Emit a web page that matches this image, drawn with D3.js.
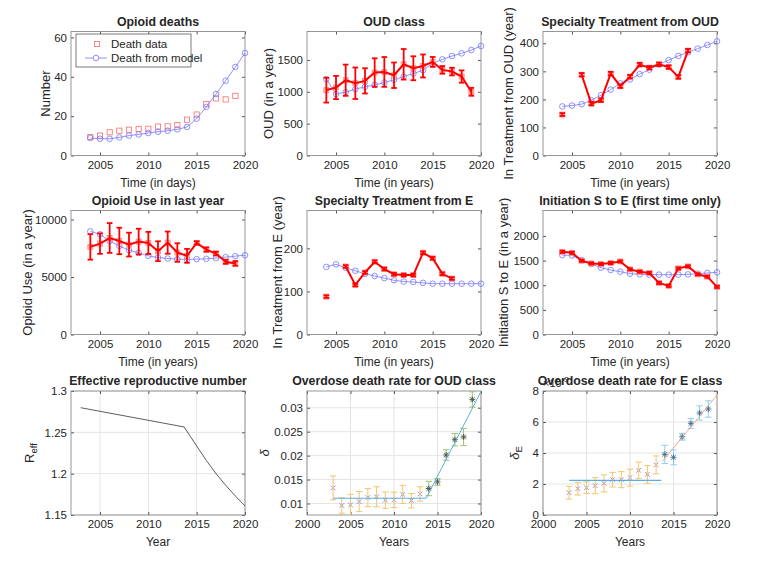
<!DOCTYPE html>
<html lang="en">
<head>
<meta charset="UTF-8">
<title>Opioid model fit</title>
<script src="https://d3js.org/d3.v7.min.js"></script>
<style>
  body { margin: 0; background: #fff; }
  svg text { font-family: "Liberation Sans", Arial, sans-serif; fill: #262626; }
</style>
</head>
<body>
<svg id="chart" width="761" height="562"></svg>
<script>
// ---- data ----
const deathYears = [2004, 2005, 2006, 2007, 2008, 2009, 2010, 2011, 2012, 2013, 2014, 2015, 2016, 2017, 2018, 2019];
const modelYears = [2004, 2005, 2006, 2007, 2008, 2009, 2010, 2011, 2012, 2013, 2014, 2015, 2016, 2017, 2018, 2019, 2020];
const treatYears = [2004, 2005, 2006, 2007, 2008, 2009, 2010, 2011, 2012, 2013, 2014, 2015, 2016, 2017];

const deathData  = [9.4, 10.1, 11.8, 12.6, 13.1, 13.5, 13.6, 14.7, 14.8, 15.5, 18.2, 20.8, 26.1, 29.0, 28.5, 30.3];
const deathModel = [8.9, 8.5, 8.5, 9.2, 10.1, 10.7, 11.4, 12.1, 12.6, 13.3, 14.5, 18.7, 24.7, 31.2, 38.0, 45.0, 52.1];

const oudData  = [1026, 1068, 1182, 1135, 1172, 1302, 1312, 1260, 1432, 1370, 1406, 1469, 1344, 1318, 1240, 1000];
const oudErr   = [195, 182, 245, 247, 198, 224, 234, 200, 240, 188, 180, 78, 60, 60, 96, 62];
const oudModel = [1198, 964, 995, 1042, 1078, 1109, 1146, 1188, 1240, 1286, 1339, 1445, 1510, 1562, 1604, 1656, 1719];

const treatOudData  = [146, null, 288, 185, 197, 292, 247, 281, 324, 313, 325, 315, 280, 374];
const treatOudErr   = [5, null, 6, 6, 6, 6, 6, 6, 6, 6, 6, 6, 6, 6];
const treatOudModel = [175, 178, 183, 197, 215, 235, 257, 271, 290, 306, 324, 340, 355, 368, 381, 394, 407];

const useData  = [7615, 7902, 8391, 8132, 7816, 8075, 7960, 7241, 7989, 7126, 6839, 7960, 7385, 7040, 6322, 6178];
const useErr   = [1106, 890, 1293, 1150, 1034, 1120, 963, 862, 963, 805, 603, 144, 187, 158, 172, 200];
const useModel = [8966, 8707, 8132, 7701, 7328, 7098, 6839, 6695, 6609, 6552, 6523, 6552, 6580, 6638, 6724, 6810, 6897];

const treatEData  = [88, null, 158, 115, 144, 169, 152, 140, 138, 138, 190, 177, 141, 130];
const treatEErr   = [3, null, 3, 3, 3, 3, 3, 3, 3, 3, 3, 3, 3, 3];
const treatEModel = [157, 163, 155, 148, 141, 136, 131, 126, 123, 122, 120, 118, 118, 118, 118, 118, 118];

const initData  = [1678, 1658, 1497, 1443, 1430, 1450, 1483, 1322, 1275, 1248, 1047, 987, 1342, 1383, 1221, 1174, 966];
const initErr   = [22, 22, 22, 22, 22, 22, 22, 22, 22, 22, 22, 22, 22, 22, 22, 22, 22];
const initModel = [1611, 1604, 1510, 1430, 1356, 1309, 1275, 1235, 1221, 1215, 1215, 1215, 1215, 1221, 1235, 1248, 1262];

const reffYears  = [2003, 2013.7, 2015, 2016, 2017, 2018, 2019, 2020];
const reffValues = [1.2798, 1.2565, 1.2335, 1.216, 1.2, 1.186, 1.173, 1.161];

const rateYears = [2003, 2004, 2005, 2006, 2007, 2008, 2009, 2010, 2011, 2012, 2013, 2014, 2015, 2016, 2017, 2018, 2019];
const rateBreak = 2014; // later years drawn in the second colour
const odOud    = [0.01326, 0.00958, 0.00972, 0.0104, 0.01125, 0.0114, 0.0107, 0.01076, 0.0119, 0.0106, 0.0120, 0.01313, 0.01451, 0.02014, 0.02333, 0.02389, 0.03174];
const odOudErr = [0.0025, 0.0016, 0.0022, 0.0021, 0.0019, 0.0021, 0.0017, 0.0016, 0.0019, 0.0015, 0.0015, 0.0015, 0.0007, 0.0011, 0.0013, 0.0018, 0.0016];
const odOudFitYears = [2003, 2013.7, 2020];
const odOudFit      = [0.0111, 0.0111, 0.0334];

const odE    = [1.44, 1.70, 1.76, 1.89, 2.04, 2.28, 2.28, 2.41, 2.88, 2.62, 3.23, 3.91, 3.72, 5.05, 5.91, 6.58, 6.84];
const odEErr = [0.41, 0.41, 0.38, 0.52, 0.55, 0.47, 0.52, 0.55, 0.53, 0.57, 0.58, 0.59, 0.48, 0.22, 0.32, 0.46, 0.53];
const odEFlatYears = [2003, 2013.6];
const odEFlat      = [2.24, 2.24];
const odERiseYears = [2013.7, 2020];
const odERise      = [3.44, 7.74];

const yearTicks = [2005, 2010, 2015, 2020];
const yearTicksWide = [2000, 2005, 2010, 2015, 2020];

// ---- layout ----
const svg = d3.select("#chart");
const colX = [71, 307, 543], rowY = [31.5, 210.5, 391];
const W = 174, H = 124;
const RED = "#ff0000", BLUE = "#7575ff";

function panel(i, o) {
  const x0 = colX[i % 3], y0 = rowY[Math.floor(i / 3)];
  const g = svg.append("g").attr("transform", `translate(${x0},${y0})`);
  const x = d3.scaleLinear().domain(o.xDomain).range([0, W]);
  const y = d3.scaleLinear().domain(o.yDomain).range([H, 0]);

  if (o.grid) {
    g.append("g").selectAll("line").data(o.xTicks).join("line")
      .attr("x1", d => x(d)).attr("x2", d => x(d)).attr("y1", 0).attr("y2", H)
      .attr("stroke", "#e4e4e4");
    g.append("g").selectAll("line").data(o.yTicks).join("line")
      .attr("y1", d => y(d)).attr("y2", d => y(d)).attr("x1", 0).attr("x2", W)
      .attr("stroke", "#e4e4e4");
  }

  const xa = g.append("g").attr("transform", `translate(0,${H})`)
    .call(d3.axisBottom(x).tickValues(o.xTicks).tickSizeInner(-3).tickSizeOuter(0).tickPadding(5).tickFormat(d => d));
  const ya = g.append("g")
    .call(d3.axisLeft(y).tickValues(o.yTicks).tickSizeInner(-3).tickSizeOuter(0).tickPadding(4).tickFormat(o.yFormat || (d => d)));
  g.append("g").call(d3.axisTop(x).tickValues(o.xTicks).tickSizeInner(-3).tickSizeOuter(0).tickFormat(""));
  g.append("g").attr("transform", `translate(${W},0)`)
    .call(d3.axisRight(y).tickValues(o.yTicks).tickSizeInner(-3).tickSizeOuter(0).tickFormat(""));
  g.selectAll(".domain").remove();
  g.selectAll(".tick line").attr("stroke", "#555");
  [xa, ya].forEach(a => a.selectAll("text").attr("font-size", "11.5px").attr("fill", "#262626"));

  g.append("rect").attr("width", W).attr("height", H)
    .attr("fill", "none").attr("stroke", "#8c8c8c").attr("stroke-width", 0.9);

  g.append("text").attr("x", W / 2).attr("y", -6).attr("text-anchor", "middle")
    .attr("font-size", "12.3px").attr("font-weight", "bold").text(o.title);
  g.append("text").attr("x", W / 2).attr("y", H + 31).attr("text-anchor", "middle")
    .attr("font-size", "12px").text(o.xLabel);
  const yl = g.append("text").attr("transform", `translate(${o.yLabelX},${H / 2}) rotate(-90)`)
    .attr("text-anchor", "middle").attr("font-size", "13px");
  if (o.yLabelSub) {
    yl.append("tspan").attr("font-style", o.italic ? "italic" : null).text(o.yLabel);
    yl.append("tspan").attr("font-size", "9.5px").attr("dy", 3).text(o.yLabelSub);
  } else {
    yl.attr("font-style", o.italic ? "italic" : null).text(o.yLabel);
  }

  let plot = g.append("g");
  if (o.clip) {
    const id = "clip" + i;
    g.append("clipPath").attr("id", id).append("rect").attr("width", W).attr("height", H);
    plot.attr("clip-path", `url(#${id})`);
  }
  return { g, plot, x, y };
}

function drawModel(p, years, vals) {
  const pts = years.map((t, k) => [t, vals[k]]);
  p.plot.append("path").datum(pts)
    .attr("d", d3.line().x(d => p.x(d[0])).y(d => p.y(d[1])))
    .attr("fill", "none").attr("stroke", BLUE).attr("stroke-width", 0.8);
  p.plot.append("g").selectAll("circle").data(pts).join("circle")
    .attr("cx", d => p.x(d[0])).attr("cy", d => p.y(d[1])).attr("r", 2.8)
    .attr("fill", "none").attr("stroke", BLUE).attr("stroke-width", 0.8);
}

function drawData(p, years, vals, errs) {
  const pts = years.map((t, k) => [t, vals[k], errs[k]]);
  const ok = pts.filter(d => d[1] != null);
  p.plot.append("g").selectAll("rect").data(ok).join("rect")
    .attr("x", d => p.x(d[0]) - 2.5).attr("y", d => p.y(d[1]) - 2.5)
    .attr("width", 5).attr("height", 5)
    .attr("fill", "#ffb3b3").attr("stroke", "#ff8a8a").attr("stroke-width", 0.8);
  p.plot.append("path").datum(pts)
    .attr("d", d3.line().defined(d => d[1] != null).x(d => p.x(d[0])).y(d => p.y(d[1])))
    .attr("fill", "none").attr("stroke", RED).attr("stroke-width", 2);
  const eb = p.plot.append("g").attr("stroke", RED).attr("stroke-width", 1.8);
  ok.forEach(d => {
    const cx = p.x(d[0]), t = p.y(d[1] + d[2]), b = p.y(d[1] - d[2]);
    eb.append("line").attr("x1", cx).attr("x2", cx).attr("y1", t).attr("y2", b);
    eb.append("line").attr("x1", cx - 2.8).attr("x2", cx + 2.8).attr("y1", t).attr("y2", t);
    eb.append("line").attr("x1", cx - 2.8).attr("x2", cx + 2.8).attr("y1", b).attr("y2", b);
  });
}

function drawRates(p, years, vals, errs, colA, colB, mkA, mkB) {
  years.forEach((t, k) => {
    const late = t >= rateBreak;
    const c = late ? colB : colA;
    const cx = p.x(t), cy = p.y(vals[k]);
    const top = p.y(vals[k] + errs[k]), bot = p.y(vals[k] - errs[k]);
    const e = p.plot.append("g").attr("stroke", c).attr("stroke-width", 1);
    e.append("line").attr("x1", cx).attr("x2", cx).attr("y1", top).attr("y2", bot);
    e.append("line").attr("x1", cx - 3.2).attr("x2", cx + 3.2).attr("y1", top).attr("y2", top);
    e.append("line").attr("x1", cx - 3.2).attr("x2", cx + 3.2).attr("y1", bot).attr("y2", bot);
    const m = p.plot.append("g").attr("stroke", late ? mkB : mkA).attr("stroke-width", 0.9);
    m.append("line").attr("x1", cx - 2.3).attr("x2", cx + 2.3).attr("y1", cy - 2.3).attr("y2", cy + 2.3);
    m.append("line").attr("x1", cx - 2.3).attr("x2", cx + 2.3).attr("y1", cy + 2.3).attr("y2", cy - 2.3);
    if (late) {
      m.append("line").attr("x1", cx - 3).attr("x2", cx + 3).attr("y1", cy).attr("y2", cy);
      m.append("line").attr("x1", cx).attr("x2", cx).attr("y1", cy - 3).attr("y2", cy + 3);
    } else {
      p.plot.append("circle").attr("cx", cx).attr("cy", cy).attr("r", 1.1).attr("fill", colA);
    }
  });
}

function drawFit(p, years, vals, color, w) {
  p.plot.append("path").datum(years.map((t, k) => [t, vals[k]]))
    .attr("d", d3.line().x(d => p.x(d[0])).y(d => p.y(d[1])))
    .attr("fill", "none").attr("stroke", color).attr("stroke-width", w);
}

// 1. Opioid deaths
const p1 = panel(0, { title: "Opioid deaths", xLabel: "Time (in days)", yLabel: "Number", yLabelX: -21.5,
  xDomain: [2002, 2020], yDomain: [0, 63], xTicks: yearTicks, yTicks: [0, 20, 40, 60] });
p1.plot.append("g").selectAll("rect").data(deathYears).join("rect")
  .attr("x", (d, k) => p1.x(d) - 2.6).attr("y", (d, k) => p1.y(deathData[k]) - 2.6)
  .attr("width", 5.2).attr("height", 5.2).attr("fill", "none").attr("stroke", "#ff6a6a").attr("stroke-width", 0.8);
drawModel(p1, modelYears, deathModel);
const lg = p1.g.append("g").attr("transform", "translate(5,2.5)");
lg.append("rect").attr("width", 115).attr("height", 33).attr("fill", "#fff").attr("stroke", "#444").attr("stroke-width", 0.7);
lg.append("rect").attr("x", 18.4).attr("y", 7.4).attr("width", 5.2).attr("height", 5.2)
  .attr("fill", "none").attr("stroke", "#ff6a6a").attr("stroke-width", 0.8);
lg.append("line").attr("x1", 9).attr("x2", 31).attr("y1", 24).attr("y2", 24).attr("stroke", BLUE).attr("stroke-width", 0.8);
lg.append("circle").attr("cx", 20).attr("cy", 24).attr("r", 2.8).attr("fill", "#fff").attr("stroke", BLUE).attr("stroke-width", 0.8);
lg.append("text").attr("x", 35).attr("y", 14).attr("font-size", "11.5px").text("Death data");
lg.append("text").attr("x", 35).attr("y", 28).attr("font-size", "11.5px").text("Death from model");

// 2. OUD class
const p2 = panel(1, { title: "OUD class", xLabel: "Time (in years)", yLabel: "OUD (in a year)", yLabelX: -34.5,
  xDomain: [2002, 2020], yDomain: [0, 1947], xTicks: yearTicks, yTicks: [0, 500, 1000, 1500] });
drawModel(p2, modelYears, oudModel);
drawData(p2, deathYears, oudData, oudErr);

// 3. Specialty treatment from OUD
const p3 = panel(2, { title: "Specialty Treatment from OUD", xLabel: "Time (in years)", yLabel: "In Treatment from OUD (year)", yLabelX: -30.5,
  xDomain: [2002, 2020], yDomain: [0, 442], xTicks: yearTicks, yTicks: [0, 100, 200, 300, 400] });
drawModel(p3, modelYears, treatOudModel);
drawData(p3, treatYears, treatOudData, treatOudErr);

// 4. Opioid use in last year
const p4 = panel(3, { title: "Opioid Use in last year", xLabel: "Time (in years)", yLabel: "Opioid Use (in a year)", yLabelX: -39.5,
  xDomain: [2002, 2020], yDomain: [0, 10780], xTicks: yearTicks, yTicks: [0, 5000, 10000] });
drawModel(p4, modelYears, useModel);
drawData(p4, deathYears, useData, useErr);

// 5. Specialty treatment from E
const p5 = panel(4, { title: "Specialty Treatment from E", xLabel: "Time (in years)", yLabel: "In Treatment from E (year)", yLabelX: -25.5,
  xDomain: [2002, 2020], yDomain: [0, 288], xTicks: yearTicks, yTicks: [0, 100, 200] });
drawModel(p5, modelYears, treatEModel);
drawData(p5, treatYears, treatEData, treatEErr);

// 6. Initiation S to E
const p6 = panel(5, { title: "Initiation S to E (first time only)", xLabel: "Time (in years)", yLabel: "Initiation S to E (in a year)", yLabelX: -35.5,
  xDomain: [2002, 2020], yDomain: [0, 2517], xTicks: yearTicks, yTicks: [0, 500, 1000, 1500, 2000] });
drawModel(p6, modelYears, initModel);
drawData(p6, modelYears, initData, initErr);

// 7. Effective reproductive number
const p7 = panel(6, { title: "Effective reproductive number", xLabel: "Year", yLabel: "R", yLabelSub: "eff", yLabelX: -37.5,
  xDomain: [2002, 2020], yDomain: [1.15, 1.3], xTicks: yearTicks, yTicks: [1.15, 1.2, 1.25, 1.3], grid: true });
drawFit(p7, reffYears, reffValues, "#333", 0.8);

// 8. Overdose death rate, OUD class
const p8 = panel(7, { title: "Overdose death rate for OUD class", xLabel: "Years", yLabel: "δ", italic: true, yLabelX: -38,
  xDomain: [2000, 2020], yDomain: [0.0076, 0.0335], xTicks: yearTicksWide, yTicks: [0.01, 0.015, 0.02, 0.025, 0.03], grid: true, clip: true });
drawRates(p8, rateYears, odOud, odOudErr, "#f3c46a", "#9cc36a", "#8c7fe6", "#4a5540");
drawFit(p8, odOudFitYears, odOudFit, "#5aaee8", 1);

// 9. Overdose death rate, E class
const p9 = panel(8, { title: "Overdose death rate for E class", xLabel: "Years", yLabel: "δ", yLabelSub: "E", italic: true, yLabelX: -24,
  xDomain: [2000, 2020], yDomain: [0, 8], xTicks: yearTicksWide, yTicks: [0, 2, 4, 6, 8], grid: true, clip: true });
const ex = p9.g.insert("text", ":first-child").attr("x", 0).attr("y", -4).attr("font-size", "11px");
ex.append("tspan").text("×10");
ex.append("tspan").attr("font-size", "8px").attr("dy", -5).text("-3");
drawRates(p9, rateYears, odE, odEErr, "#f3c46a", "#86d2f0", "#8c7fe6", "#3d6f90");
drawFit(p9, odEFlatYears, odEFlat, "#5aaee8", 1.2);
drawFit(p9, odERiseYears, odERise, "#f0956c", 0.8);
</script>
</body>
</html>
